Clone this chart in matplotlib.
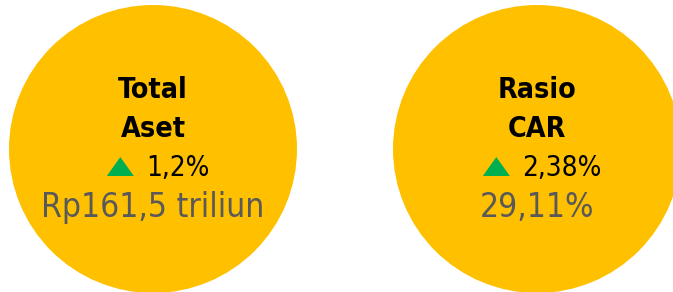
import matplotlib
matplotlib.use("Agg")
import matplotlib.pyplot as plt
from matplotlib.patches import Circle, Polygon

# ---- data ----
titles = ["Total\nAset", "Rasio\nCAR"]
changes = ["1,2%", "2,38%"]
values = ["Rp161,5 triliun", "29,11%"]

# ---- style ----
W, H = 673, 292
centers_x = [153, 537]
center_y = 149
radius = 144
gold = "#FFC000"
green = "#00B050"
gray = "#595959"
fam = "DejaVu Sans"

fig = plt.figure(figsize=(W / 100, H / 100), dpi=100)
ax = fig.add_axes([0, 0, 1, 1])
ax.set_xlim(0, W)
ax.set_ylim(H, 0)
ax.axis("off")

fig.canvas.draw()
renderer = fig.canvas.get_renderer()

for cx, title, chg, val in zip(centers_x, titles, changes, values):
    ax.add_patch(Circle((cx, center_y), radius, color=gold, lw=0))
    l1, l2 = title.split("\n")
    ax.text(cx, 97.7, l1, ha="center", va="baseline", fontsize=20.5,
            fontweight="bold", fontstretch="condensed", family=fam, color="black")
    ax.text(cx, 136.7, l2, ha="center", va="baseline", fontsize=20.5,
            fontweight="bold", fontstretch="condensed", family=fam, color="black")

    # change line: triangle + value
    t = ax.text(0, 176, chg, ha="left", va="baseline", fontsize=20,
                fontstretch="condensed", family=fam, color="black")
    tw = t.get_window_extent(renderer).width
    tri_w, tri_h, gap = 27, 19, 12
    total = tri_w + gap + tw
    left = cx + 5 - total / 2
    ax.add_patch(Polygon([[left, 176], [left + tri_w, 176], [left + tri_w / 2, 176 - tri_h]],
                         closed=True, color=green, lw=0))
    t.set_x(left + tri_w + gap)

    ax.text(cx, 216.7, val, ha="center", va="baseline", fontsize=24,
            fontstretch="condensed", family=fam, color=gray)

fig.savefig("out.png", dpi=100)
